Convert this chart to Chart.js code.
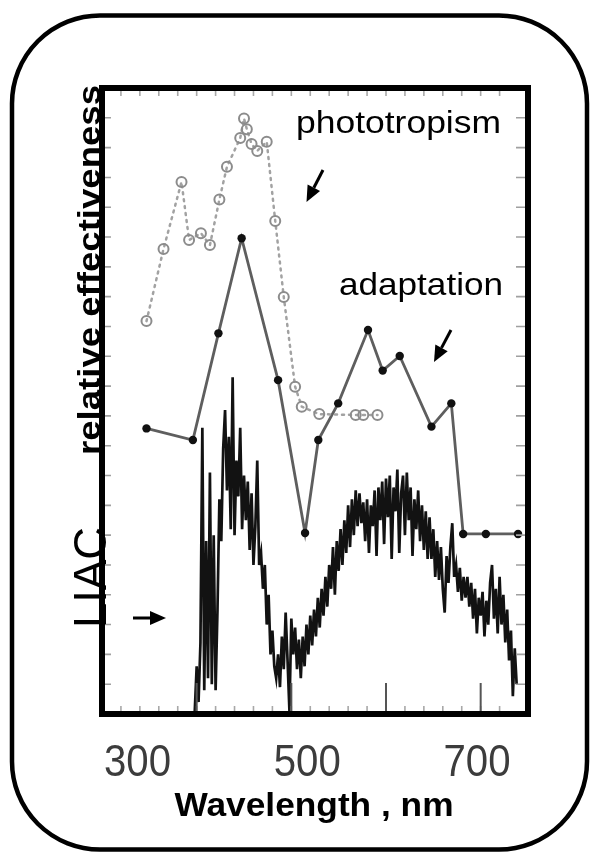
<!DOCTYPE html>
<html>
<head>
<meta charset="utf-8">
<script src="https://cdn.jsdelivr.net/npm/chart.js@4.4.1/dist/chart.umd.min.js"></script>
<style>
html, body { margin: 0; padding: 0; background: #fff; }
#wrap { width: 590px; height: 853px; }
</style>
</head>
<body>
<div id="wrap"><canvas id="chart" width="590" height="853"></canvas></div>
<script>
// phototropism (open circles, dotted line)
var photoNm  = [347, 365, 384, 392, 404.5, 414, 424, 432, 446, 450, 453, 458, 464, 474, 483, 492, 504, 511, 529.5, 568, 576, 591];
var photoVal = [13.18, 15.60, 17.85, 15.90, 16.13, 15.73, 17.26, 18.36, 19.32, 19.98, 19.62, 19.12, 18.89, 19.20, 16.54, 13.99, 10.98, 10.31, 10.06, 10.03, 10.03, 10.03];

// adaptation (filled dots, solid line)
var adaptNm  = [347, 396, 423, 447.5, 486, 514.5, 528.5, 549.5, 581, 596.5, 614.5, 648, 669, 681.5, 705.5, 739.5];
var adaptVal = [9.58, 9.19, 12.77, 15.96, 11.20, 6.07, 9.19, 10.42, 12.88, 11.52, 12.01, 9.64, 10.42, 6.04, 6.04, 6.04];

// LIAC spectrum, sampled every 2 nm from 398 nm
var specStart = 398;
var specStep = 2;
var specVal = [
	0.1, 1.6, 0.4, 2.4, 9.6, 0.8, 5.8, 1.2, 8.1, 1.0,
	6.0, 0.8, 3.5, 7.2, 5.8, 8.9, 10.2, 7.5, 9.3, 6.2,
	11.3, 6.0, 8.5, 7.3, 9.6, 6.2, 8.0, 6.5, 7.8, 5.5,
	7.4, 5.0, 6.3, 8.5, 5.0, 5.4, 4.2, 5.0, 3.0, 4.0,
	2.0, 2.8, 1.6, 1.2, 2.0, 0.9, 2.6, 1.5, 3.4, 1.8,
	0.1, 3.2, 2.0, 2.9, 1.5, 2.5, 1.2, 2.6, 1.6, 3.0,
	2.0, 3.3, 2.3, 3.5, 2.6, 3.9, 2.9, 4.2, 3.3, 4.6,
	3.6, 5.0, 4.2, 5.6, 4.0, 5.8, 4.8, 6.2, 5.0, 6.5,
	5.4, 7.0, 5.6, 7.2, 6.0, 7.5, 6.3, 7.4, 6.4, 7.1,
	5.8, 7.2, 5.4, 7.0, 6.3, 7.5, 5.3, 7.6, 6.5, 7.8,
	5.7, 7.9, 6.6, 8.0, 5.2, 7.6, 6.8, 8.2, 5.4, 7.4,
	8.0, 6.0, 8.1, 6.5, 7.6, 5.3, 7.2, 6.2, 7.5, 5.8,
	7.0, 5.5, 6.8, 5.2, 6.6, 5.2, 6.2, 4.6, 5.8, 4.5,
	5.6, 4.2, 3.4, 5.3, 4.4, 5.6, 6.4, 4.6, 5.0, 4.1,
	4.9, 3.8, 4.6, 3.9, 4.6, 3.6, 4.4, 3.2, 4.2, 2.7,
	3.9, 3.3, 4.1, 2.6, 3.8, 3.0, 4.4, 5.0, 3.2, 4.2,
	2.7, 4.6, 3.0, 4.0, 2.4, 3.5, 1.8, 2.8, 0.6, 2.2,
	1.0
];

// tick labels under the box
var xLabels = [300, 500, 700];

var photo = [], adapt = [], spec = [];
for (var i = 0; i < photoNm.length; i++) photo.push({ x: photoNm[i], y: photoVal[i] });
for (var i = 0; i < adaptNm.length; i++) adapt.push({ x: adaptNm[i], y: adaptVal[i] });
for (var i = 0; i < specVal.length; i++) spec.push({ x: specStart + i * specStep, y: specVal[i] });

var FONT = '"Liberation Sans", Arial, sans-serif';

// draw text stretched to a given width
function fitText(ctx, txt, x, y, w, align) {
	var m = ctx.measureText(txt).width;
	ctx.save();
	ctx.translate(x, y);
	ctx.scale(w / m, 1);
	ctx.textAlign = align || 'left';
	ctx.fillText(txt, 0, 0);
	ctx.restore();
}

function arrow(ctx, x0, y0, x1, y1) {
	var a = Math.atan2(y1 - y0, x1 - x0);
	var hl = 16, hw = 7;
	var bx = x1 - hl * Math.cos(a), by = y1 - hl * Math.sin(a);
	ctx.beginPath();
	ctx.moveTo(x0, y0);
	ctx.lineTo(bx, by);
	ctx.lineWidth = 3;
	ctx.stroke();
	ctx.beginPath();
	ctx.moveTo(x1, y1);
	ctx.lineTo(bx + hw * Math.sin(a), by - hw * Math.cos(a));
	ctx.lineTo(bx - hw * Math.sin(a), by + hw * Math.cos(a));
	ctx.closePath();
	ctx.fill();
}

var decor = {
	id: 'decor',
	afterDraw: function (chart) {
		var ctx = chart.ctx, ca = chart.chartArea;
		var xs = chart.scales.x, ys = chart.scales.y, x2 = chart.scales.x2;
		ctx.save();

		// ticks inside the box
		xs.ticks.forEach(function (t) {
			var v = Math.round(t.value);
			if (v <= xs.min || v >= xs.max) return;
			var px = xs.getPixelForValue(v);
			ctx.beginPath();
			ctx.strokeStyle = '#a8a8a8';
			ctx.lineWidth = 1.6;
			ctx.moveTo(px, ca.top); ctx.lineTo(px, ca.top + 8);
			ctx.moveTo(px, ca.bottom); ctx.lineTo(px, ca.bottom - 8);
			ctx.stroke();
			if (v % 100 === 0) {
				ctx.beginPath();
				ctx.strokeStyle = '#555';
				ctx.lineWidth = 2;
				ctx.moveTo(px, ca.bottom); ctx.lineTo(px, ca.bottom - 31);
				ctx.stroke();
			}
		});
		ys.ticks.forEach(function (t) {
			if (t.value <= ys.min || t.value >= ys.max) return;
			var py = ys.getPixelForValue(t.value);
			ctx.beginPath();
			ctx.strokeStyle = '#a0a0a0';
			ctx.lineWidth = 1.6;
			ctx.moveTo(ca.left, py); ctx.lineTo(ca.left + 9, py);
			ctx.moveTo(ca.right, py); ctx.lineTo(ca.right - 12, py);
			ctx.stroke();
		});

		// plot box
		ctx.strokeStyle = '#000';
		ctx.lineWidth = 6;
		ctx.strokeRect(ca.left, ca.top, ca.right - ca.left, ca.bottom - ca.top);

		// outer rounded frame
		ctx.lineWidth = 4.5;
		ctx.beginPath();
		ctx.roundRect(12, 15.5, 575, 834, 88);
		ctx.stroke();

		// x tick labels
		ctx.fillStyle = '#3c3c3c';
		ctx.textBaseline = 'alphabetic';
		ctx.font = '44px ' + FONT;
		xLabels.forEach(function (v) {
			fitText(ctx, String(v), x2.getPixelForValue(v), 776, 67, 'center');
		});

		ctx.fillStyle = '#000';
		ctx.font = 'bold 33px ' + FONT;
		fitText(ctx, 'Wavelength , nm', 314, 816, 279, 'center');

		// y title and LIAC, rotated
		ctx.save();
		ctx.translate(100, 455);
		ctx.rotate(-Math.PI / 2);
		ctx.font = 'bold 32px ' + FONT;
		fitText(ctx, 'relative effectiveness', 0, 0, 370, 'left');
		ctx.restore();

		ctx.save();
		ctx.translate(106, 628);
		ctx.rotate(-Math.PI / 2);
		ctx.font = '46px ' + FONT;
		fitText(ctx, 'LIAC', 0, 0, 101, 'left');
		ctx.restore();

		// curve names
		ctx.font = '32px ' + FONT;
		fitText(ctx, 'phototropism', 296, 133, 205, 'left');
		fitText(ctx, 'adaptation', 339, 295, 164, 'left');

		// arrows
		ctx.strokeStyle = '#000';
		arrow(ctx, 323, 170, 306.5, 202);
		arrow(ctx, 451, 330, 434, 362);
		arrow(ctx, 133, 618, 166, 618);

		ctx.restore();
	}
};

new Chart(document.getElementById('chart'), {
	type: 'line',
	data: {
		datasets: [{
			label: 'phototropism',
			data: photo,
			order: 0,
			borderColor: '#a2a2a2',
			borderWidth: 2.5,
			borderDash: [2, 5],
			borderCapStyle: 'round',
			pointRadius: 5,
			pointBorderWidth: 2,
			pointBorderColor: '#8c8c8c',
			pointBackgroundColor: 'rgba(255,255,255,0)',
			tension: 0
		}, {
			label: 'adaptation',
			data: adapt,
			order: 1,
			borderColor: '#5e5e5e',
			borderWidth: 2.8,
			pointRadius: 4.2,
			pointBorderWidth: 0,
			pointBackgroundColor: '#111',
			pointBorderColor: '#111',
			tension: 0
		}, {
			label: 'LIAC',
			data: spec,
			order: 2,
			borderColor: '#121212',
			borderWidth: 2.7,
			borderJoinStyle: 'miter',
			pointRadius: 0,
			tension: 0
		}]
	},
	options: {
		responsive: false,
		animation: false,
		devicePixelRatio: 1,
		events: [],
		layout: { padding: { left: 102, right: 62, top: 88, bottom: 139 } },
		plugins: { legend: { display: false }, tooltip: { enabled: false } },
		scales: {
			x: { type: 'linear', min: 300, max: 750, display: false, ticks: { stepSize: 20, maxTicksLimit: 100, autoSkip: false } },
			x2: { type: 'linear', position: 'bottom', min: 258.2, max: 760.1, display: false },
			y: { type: 'linear', min: 0, max: 21, display: false, ticks: { stepSize: 1, maxTicksLimit: 100, autoSkip: false } }
		}
	},
	plugins: [decor]
});
</script>
</body>
</html>
